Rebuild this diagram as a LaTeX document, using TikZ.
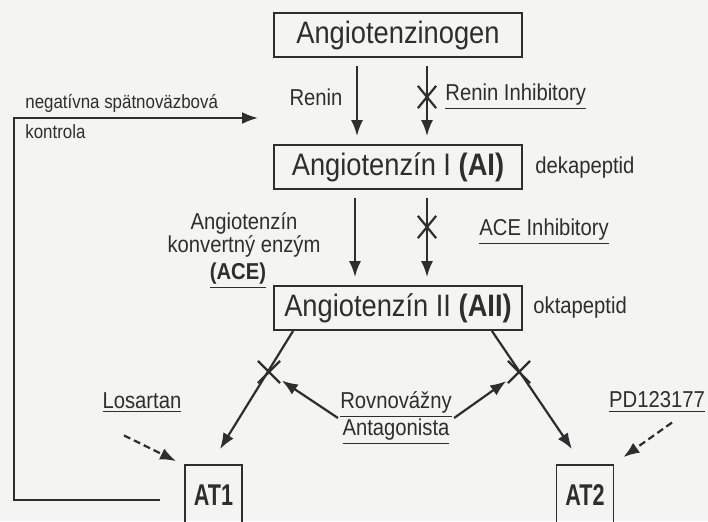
\documentclass[tikz,border=0pt]{standalone}
\usepackage{fontspec}
\setmainfont{Liberation Sans}[FakeStretch=0.88]
\newfontfamily\narrowbf{Liberation Sans}[FakeStretch=0.72]
\usepackage{tikz}
\usetikzlibrary{arrows.meta}
\usetikzlibrary{shapes.misc}
\definecolor{ink}{HTML}{2E2E2E}
\definecolor{paper}{HTML}{F4F4F2}
\tikzset{
  stage/.style={draw=ink, line width=0.9pt, minimum width=124pt, minimum height=22pt, inner sep=0pt, font=\fontsize{15.5}{18}\selectfont},
  receptor/.style={draw=ink, line width=0.9pt, minimum width=28.5pt, minimum height=30pt, inner sep=0pt, font=\narrowbf\bfseries\fontsize{15}{18}\selectfont},
  lbl/.style={font=\fontsize{11.5}{10.5}\selectfont, inner sep=1pt},
  note/.style={font=\fontsize{9.6}{11}\selectfont, inner sep=0pt, anchor=west},
  flow/.style={draw=ink, line width=1.1pt, -{Latex[length=8pt,width=6pt]}},
  block/.style={draw=ink, cross out, line width=1.1pt, minimum width=8pt, minimum height=10pt, inner sep=0pt},
}

\begin{document}
\begin{tikzpicture}[x=0.5pt, y=-0.5pt, color=ink, text=ink]
\path[use as bounding box, fill=paper] (0,0) rectangle (708,521);
\clip (0,0) rectangle (708,521);
% cascade boxes
\node[stage] (gen) at (398,35) {Angiotenzinogen};
\node[stage] (ai) at (398,167) {Angiotenzín I \textbf{(AI)}};
\node[stage] (aii) at (398,308) {Angiotenzín II \textbf{(AII)}};
\node[receptor] (at1) at (213.5,495) {AT1};
\node[receptor] (at2) at (585,495) {AT2};
% renin step
\draw[flow, shorten <=4pt, shorten >=4pt] ([xshift=-20.5pt]gen.south) -- ([xshift=-20.5pt]ai.north);
\draw[flow, shorten <=4pt, shorten >=4pt] ([xshift=14.5pt]gen.south) -- ([xshift=14.5pt]ai.north);
\node[block] (x1) at (427,97) {};
\node[lbl] (renin) at (316,97) {Renin};
\node[lbl, anchor=west] (rinh) at (443,97) {\underline{Renin Inhibitory}};
\node[lbl, anchor=west] (deka) at (533,168) {dekapeptid};
% ACE step
\draw[flow, shorten <=4pt, shorten >=4pt] ([xshift=-21.5pt]ai.south) -- ([xshift=-21.5pt]aii.north);
\draw[flow, shorten <=4pt, shorten >=4pt] ([xshift=14.5pt]ai.south) -- ([xshift=14.5pt]aii.north);
\node[block] (x2) at (427,227) {};
\node[lbl, align=center] (ace) at (244,235) {Angiotenzín\\konvertný enzým};
\node[lbl] (acebf) at (238,276) {\underline{\textbf{(ACE)}}};
\node[lbl, anchor=west] (aceinh) at (477,232) {\underline{ACE Inhibitory}};
\node[lbl, anchor=west] (okta) at (531,308) {oktapeptid};
% receptors
\draw[flow] ([xshift=10pt]aii.south west) -- ([shift={(3.25pt,7.5pt)}]at1.north);
\draw[flow] ([xshift=-15.5pt]aii.south east) -- ([shift={(-6.5pt,7.5pt)}]at2.north);
\node[block, minimum width=10pt] (x3) at (269,372) {};
\node[block, minimum width=10pt] (x4) at (519,372) {};
\node[lbl, align=center] (ant) at (396,418) {\underline{Rovnovážny}\\\underline{Antagonista}};
\draw[flow, shorten >=1pt] (ant.west) -- (x3);
\draw[flow, shorten >=1pt] (ant.east) -- (x4);
\node[lbl] (los) at (142,403) {\underline{Losartan}};
\node[lbl] (pd) at (657,402) {\underline{PD123177}};
\draw[flow, dash pattern=on 3.5pt off 2pt] ([shift={(-9pt,-10pt)}]los.south) -- ([shift={(-4pt,1.5pt)}]at1.north west);
\draw[flow, dash pattern=on 3.5pt off 2pt] ([shift={(7.5pt,-4pt)}]pd.south) -- ([shift={(4.5pt,3.5pt)}]at2.north east);
% feedback loop
\coordinate (fbin) at (160,500);
\coordinate (fbout) at (258,118);
\draw[flow] (fbin) -- (14,500) |- (fbout);
\node[note] (neg) at (25,103) {negatívna spätnoväzbová};
\node[note] (kon) at (25,132) {kontrola};
\end{tikzpicture}
\end{document}
